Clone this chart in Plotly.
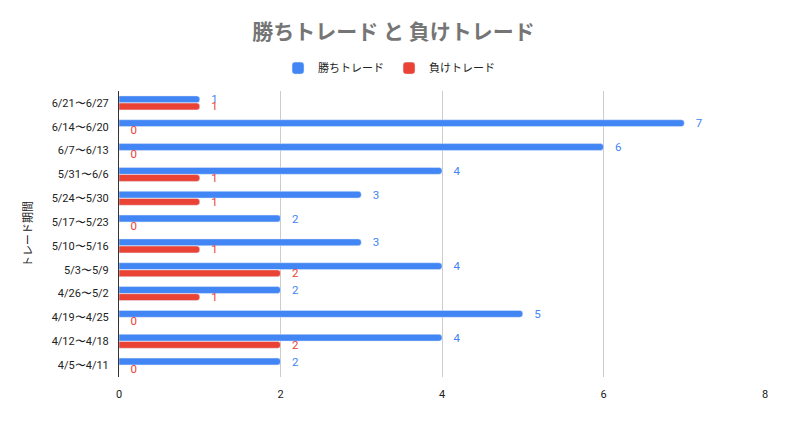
import plotly.graph_objects as go

categories = ["6/21〜6/27", "6/14〜6/20", "6/7〜6/13", "5/31〜6/6", "5/24〜5/30",
              "5/17〜5/23", "5/10〜5/16", "5/3〜5/9", "4/26〜5/2", "4/19〜4/25",
              "4/12〜4/18", "4/5〜4/11"]
wins = [1, 7, 6, 4, 3, 2, 3, 4, 2, 5, 4, 2]
losses = [1, 0, 0, 1, 1, 0, 1, 2, 1, 0, 2, 0]
x_ticks = [0, 2, 4, 6, 8]

BLUE = "#4285F4"
RED = "#EA4335"
FONT = "Noto Sans CJK JP, Roboto, sans-serif"

fig = go.Figure()
fig.add_trace(go.Bar(
    y=categories, x=wins, orientation="h", name="勝ちトレード",
    marker=dict(color=BLUE), text=wins, texttemplate="   %{x}",
    textposition="outside", constraintext="none",
    textfont=dict(color=BLUE, size=11.5, family="Roboto"),
    cliponaxis=False,
))
fig.add_trace(go.Bar(
    y=categories, x=losses, orientation="h", name="負けトレード",
    marker=dict(color=RED), text=losses, texttemplate="   %{x}",
    textposition="outside", constraintext="none",
    textfont=dict(color=RED, size=11.5, family="Roboto"),
    cliponaxis=False,
))

fig.update_layout(
    width=787, height=423,
    paper_bgcolor="white", plot_bgcolor="white",
    barmode="group", bargap=0.40, bargroupgap=0.04,
    barcornerradius=3,
    margin=dict(l=119, r=22, t=91, b=46, autoexpand=False),
    font=dict(family=FONT, color="#222222"),
    title=dict(text="勝ちトレード と 負けトレード", x=0.5, xanchor="center",
               y=0.925, yanchor="middle",
               font=dict(size=21, color="#757575", family=FONT, weight="bold")),
    legend=dict(orientation="h", x=0.418, xanchor="center", y=1.08, yanchor="middle",
                font=dict(size=11, color="#222222", family=FONT),
                traceorder="normal"),
    showlegend=True,
)
fig.update_xaxes(range=[0, 8], tickvals=x_ticks, showgrid=True, gridcolor="#cccccc",
                 zeroline=False, showline=False, ticks="", automargin=False,
                 ticklabelstandoff=9,
                 tickfont=dict(size=11, color="#222222", family="Roboto"))
fig.update_yaxes(autorange="reversed", showline=True, linecolor="#333333", linewidth=1,
                 ticks="", ticklabelstandoff=7, automargin=False,
                 tickfont=dict(size=11, color="#222222", family="Roboto"),
                 title=dict(text="トレード期間", font=dict(size=11, color="#222222", family=FONT),
                            standoff=16))

fig.write_html("out.html", config={"displayModeBar": False},
               post_script="document.body.style.margin='0';")
